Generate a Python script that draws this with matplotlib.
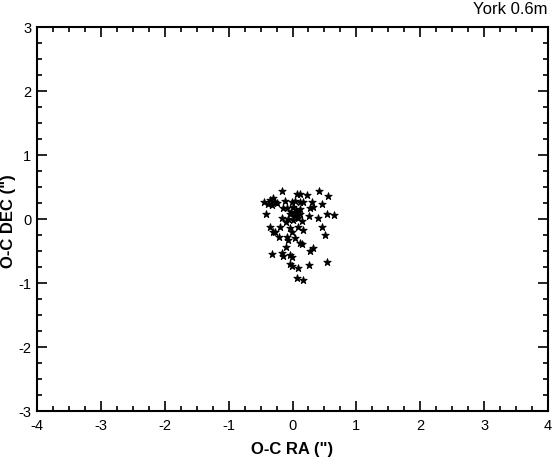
import matplotlib
matplotlib.use("Agg")
import matplotlib.pyplot as plt
from matplotlib.ticker import MultipleLocator

plt.rcParams['font.family'] = ['Liberation Sans', 'DejaVu Sans']
plt.rcParams['axes.unicode_minus'] = False

ra = [-0.16, 0.07, 0.12, 0.23, 0.41, 0.56, -0.35, -0.31, -0.27, -0.38,
      -0.32, -0.24, -0.12, -0.01, 0.04, 0.12, 0.16, 0.30, 0.46, -0.15,
      -0.09, 0.27, 0.32, -0.41, -0.16, 0.26, 0.40, 0.54, 0.65, 0.00,
      0.05, 0.12, -0.04, 0.04, 0.12, -0.07, 0.01, 0.09, 0.15, -0.10,
      -0.35, -0.31, -0.27, -0.20, -0.04, -0.01, 0.09, 0.16, 0.46, 0.51,
      -0.21, -0.09, -0.07, 0.04, 0.12, 0.15, -0.10, 0.32, 0.27, -0.32,
      -0.16, -0.15, -0.04, -0.01, -0.04, -0.01, 0.09, 0.26, 0.54, 0.07,
      0.16, -0.44, -0.02, 0.06]
dec = [0.44, 0.39, 0.39, 0.38, 0.44, 0.36, 0.30, 0.33, 0.27, 0.23,
       0.22, 0.25, 0.28, 0.27, 0.28, 0.27, 0.27, 0.27, 0.23, 0.17,
       0.17, 0.17, 0.19, 0.08, 0.02, 0.05, 0.02, 0.08, 0.06, 0.19,
       0.14, 0.16, 0.08, 0.05, 0.08, 0.00, -0.02, 0.02, -0.03, -0.05,
       -0.12, -0.20, -0.20, -0.12, -0.14, -0.20, -0.12, -0.17, -0.12, -0.25,
       -0.28, -0.28, -0.33, -0.30, -0.37, -0.39, -0.44, -0.45, -0.50, -0.55,
       -0.53, -0.58, -0.56, -0.59, -0.70, -0.73, -0.77, -0.72, -0.67, -0.92,
       -0.95, 0.27, 0.11, 0.10]

fig = plt.figure(figsize=(5.52, 4.61), dpi=100)
ax = fig.add_axes([37/552, 50/461, 511/552, 384/461])
ax.scatter(ra, dec, marker='*', s=30, color='black', linewidths=0.7)

ax.set_xlim(-4, 4)
ax.set_ylim(-3, 3)
ax.xaxis.set_major_locator(MultipleLocator(1))
ax.xaxis.set_minor_locator(MultipleLocator(0.25))
ax.yaxis.set_major_locator(MultipleLocator(1))
ax.yaxis.set_minor_locator(MultipleLocator(0.25))
ax.tick_params(which='both', direction='in', top=True, right=True, labelsize=10.5, width=1.2)
ax.tick_params(which='major', length=7)
ax.tick_params(which='minor', length=3.5)
ax.tick_params(axis='x', which='major', pad=6)
ax.tick_params(axis='y', which='major', pad=4)
for s in ax.spines.values():
    s.set_linewidth(1.5)

fig.text(292/552, 1 - 449/461, 'O-C RA (")', ha='center', va='center',
         fontsize=12, fontweight='bold')
fig.text(9/552, 1 - 221/461, 'O-C DEC (")', rotation=90, ha='center', va='center',
         fontsize=12, fontweight='bold')
fig.text(0.992, 0.995, 'York 0.6m', ha='right', va='top', fontsize=12)

fig.savefig('out.png', dpi=100)
